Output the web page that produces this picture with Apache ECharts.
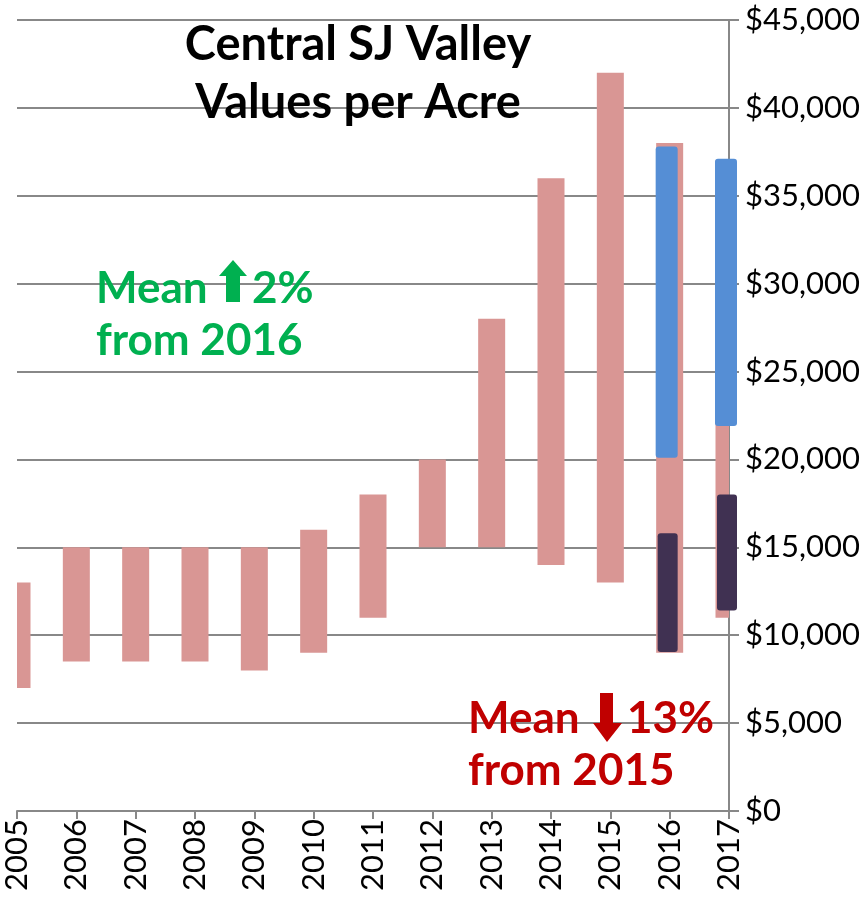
<!DOCTYPE html>
<html>
<head>
<meta charset="utf-8">
<script src="https://cdn.jsdelivr.net/npm/echarts@6/dist/echarts.min.js"></script>
<style>
  html, body { margin: 0; padding: 0; background: #fff; }
  #chart { width: 865px; height: 900px; }
</style>
</head>
<body>
<div id="chart"></div>
<script>
// 年份与每年地价区间（美元/英亩）
const years = ['2005', '2006', '2007', '2008', '2009', '2010', '2011', '2012', '2013', '2014', '2015', '2016', '2017'];
const rangeLow = [7000, 8500, 8500, 8500, 8000, 9000, 11000, 15000, 15000, 14000, 13000, 9000, 11000];
const rangeHigh = [13000, 15000, 15000, 15000, 15000, 16000, 18000, 20000, 28000, 36000, 42000, 38000, 37000];

// 2016/2017 的高低两档
const splitYears = ['2016', '2017'];
const upperLow = [20100, 21900];
const upperHigh = [37800, 37100];
const lowerLow = [9050, 11400];
const lowerHigh = [15800, 18000];

const FONT = 'Lato, "Open Sans", sans-serif';

// 浮动柱子
function floatBar(width, color, radius, shift, clip) {
  return function (params, api) {
    const x = api.coord([api.value(0), 0])[0] + shift;
    const top = api.coord([api.value(0), api.value(2)])[1];
    const bot = api.coord([api.value(0), api.value(1)])[1];
    let shape = { x: x - width / 2, y: top, width: width, height: bot - top };
    if (clip) {
      const cs = params.coordSys;
      shape = echarts.graphic.clipRectByRect(shape, { x: cs.x, y: cs.y, width: cs.width, height: cs.height });
    }
    if (!shape) return;
    return {
      type: 'rect',
      shape: Object.assign({ r: radius }, shape),
      style: { fill: color }
    };
  };
}

const chart = echarts.init(document.getElementById('chart'), null, { renderer: 'canvas' });

const option = {
  animation: false,
  grid: { left: 17, right: 136, top: 20, bottom: 89, containLabel: false },
  xAxis: {
    type: 'category',
    data: years,
    boundaryGap: false,
    axisLine: { lineStyle: { color: '#888', width: 2 } },
    axisTick: { show: true, length: 8, lineStyle: { color: '#888', width: 2 } },
    axisLabel: {
      rotate: 90,
      margin: 8,
      fontSize: 31,
      color: '#000',
      fontFamily: FONT,
      interval: 0
    },
    splitLine: { show: false }
  },
  yAxis: {
    type: 'value',
    position: 'right',
    min: 0,
    max: 45000,
    interval: 5000,
    axisLine: { show: true, lineStyle: { color: '#888', width: 2 } },
    axisTick: { show: true, length: 10, lineStyle: { color: '#888', width: 2 } },
    axisLabel: {
      margin: 16,
      fontSize: 31,
      color: '#000',
      fontFamily: FONT,
      formatter: v => '$' + v.toLocaleString('en-US')
    },
    splitLine: { show: true, lineStyle: { color: '#888', width: 2 } }
  },
  series: [
    {
      name: 'range',
      type: 'custom',
      renderItem: floatBar(27, '#D99694', 0, 0, true),
      encode: { x: 0, y: [1, 2] },
      data: years.map((y, i) => [i, rangeLow[i], rangeHigh[i]]),
      z: 2
    },
    {
      name: 'upper',
      type: 'custom',
      renderItem: floatBar(22, '#558ED5', 3, -3, false),
      encode: { x: 0, y: [1, 2] },
      data: splitYears.map((y, i) => [years.indexOf(y), upperLow[i], upperHigh[i]]),
      z: 3
    },
    {
      name: 'lower',
      type: 'custom',
      renderItem: floatBar(20, '#403152', 3, -2, false),
      encode: { x: 0, y: [1, 2] },
      data: splitYears.map((y, i) => [years.indexOf(y), lowerLow[i], lowerHigh[i]]),
      z: 3
    }
  ],
  graphic: [
    // 标题
    { type: 'text', x: 358, y: 68, z: 10, style: { text: 'Central SJ Valley', fill: '#000', font: 'bold 47px ' + FONT, textAlign: 'center', textVerticalAlign: 'bottom' } },
    { type: 'text', x: 358, y: 126, z: 10, style: { text: 'Values per Acre', fill: '#000', font: 'bold 47px ' + FONT, textAlign: 'center', textVerticalAlign: 'bottom' } },
    // 绿色注释
    { type: 'text', x: 96, y: 311, z: 10, style: { text: 'Mean', fill: '#00B050', font: 'bold 44px ' + FONT, textVerticalAlign: 'bottom' } },
    { type: 'polygon', z: 10, shape: { points: [[233, 260], [247, 276], [240, 276], [240, 302], [226, 302], [226, 276], [219, 276]] }, style: { fill: '#00B050' } },
    { type: 'text', x: 252, y: 311, z: 10, style: { text: '2%', fill: '#00B050', font: 'bold 44px ' + FONT, textVerticalAlign: 'bottom' } },
    { type: 'text', x: 96, y: 363, z: 10, style: { text: 'from 2016', fill: '#00B050', font: 'bold 44px ' + FONT, textVerticalAlign: 'bottom' } },
    // 红色注释
    { type: 'text', x: 468, y: 741, z: 10, style: { text: 'Mean', fill: '#C00000', font: 'bold 44px ' + FONT, textVerticalAlign: 'bottom' } },
    { type: 'polygon', z: 10, shape: { points: [[600, 693], [613, 693], [613, 723], [622, 723], [607, 742], [593, 723], [600, 723]] }, style: { fill: '#C00000' } },
    { type: 'text', x: 627, y: 741, z: 10, style: { text: '13%', fill: '#C00000', font: 'bold 44px ' + FONT, textVerticalAlign: 'bottom' } },
    { type: 'text', x: 468, y: 793, z: 10, style: { text: 'from 2015', fill: '#C00000', font: 'bold 44px ' + FONT, textVerticalAlign: 'bottom' } }
  ]
};

chart.setOption(option);
</script>
</body>
</html>
